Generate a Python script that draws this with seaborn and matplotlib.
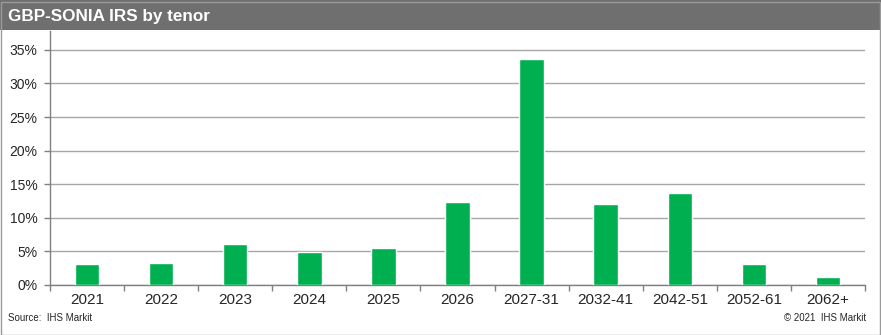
import matplotlib
matplotlib.use("Agg")
import matplotlib.pyplot as plt
import seaborn as sns
import pandas as pd
from matplotlib.patches import Rectangle
from matplotlib.ticker import FuncFormatter, FixedLocator

categories = ["2021", "2022", "2023", "2024", "2025", "2026", "2027-31",
              "2032-41", "2042-51", "2052-61", "2062+"]
values = [3.1, 3.2, 6.1, 4.9, 5.5, 12.4, 33.6, 12.1, 13.7, 3.1, 1.2]
yticks = [0, 5, 10, 15, 20, 25, 30, 35]
title = "GBP-SONIA IRS by tenor"
source = "Source:  IHS Markit"
copyright_txt = "© 2021  IHS Markit"

sns.set_theme(style="white")
plt.rcParams['font.family'] = ['Liberation Sans', 'DejaVu Sans']

df = pd.DataFrame({"tenor": categories, "share": values})

fig = plt.figure(figsize=(8.81, 3.35), dpi=100)
ax = fig.add_axes([50/881, 1-285/335, 815/881, 254/335])

sns.barplot(data=df, x="tenor", y="share", color="#00B050", saturation=1,
            width=0.33, ax=ax, zorder=3)

ax.set_ylim(0, 37.8)
ax.set_xlim(-0.5, len(categories) - 0.5)
ax.set_yticks(yticks)
ax.yaxis.set_major_formatter(FuncFormatter(lambda v, p: f"{int(v)}%"))
ax.grid(axis="y", color="#a6a6a6", linewidth=1.0, zorder=0)
ax.set_axisbelow(True)
ax.set_xlabel("")
ax.set_ylabel("")
for s in ["top", "right"]:
    ax.spines[s].set_visible(False)
for s in ["left", "bottom"]:
    ax.spines[s].set_color("#808080")
    ax.spines[s].set_linewidth(1.0)
ax.xaxis.set_minor_locator(FixedLocator([i - 0.5 for i in range(len(categories) + 1)]))
ax.tick_params(axis="x", which="major", length=0, labelsize=11, colors="#262626", pad=6)
ax.tick_params(axis="x", which="minor", length=4, width=1, color="#808080", bottom=True, direction="out")
ax.tick_params(axis="y", which="major", length=4, width=1, color="#808080", left=True,
               direction="out", labelsize=10, labelcolor="#262626", pad=5)

# title bar
fig.patches.append(Rectangle((0, 1-30/335), 1, 30/335, transform=fig.transFigure,
                             facecolor="#6f6f6f", edgecolor="none", zorder=0))
fig.text(8/881, 1-16/335, title, color="white", fontsize=12.3, fontweight="bold",
         va="center", ha="left")
# outer frame
fig.patches.append(Rectangle((0.5/881, 0.5/335), 879/881, 333/335, transform=fig.transFigure,
                             facecolor="none", edgecolor="#9a9a9a", linewidth=1.0, zorder=5))
fig.text(8/881, 1-318/335, source, color="#262626", fontsize=7, va="center", ha="left")
fig.text(866/881, 1-318/335, copyright_txt, color="#262626", fontsize=7, va="center", ha="right")

fig.savefig("out.png", dpi=100)
